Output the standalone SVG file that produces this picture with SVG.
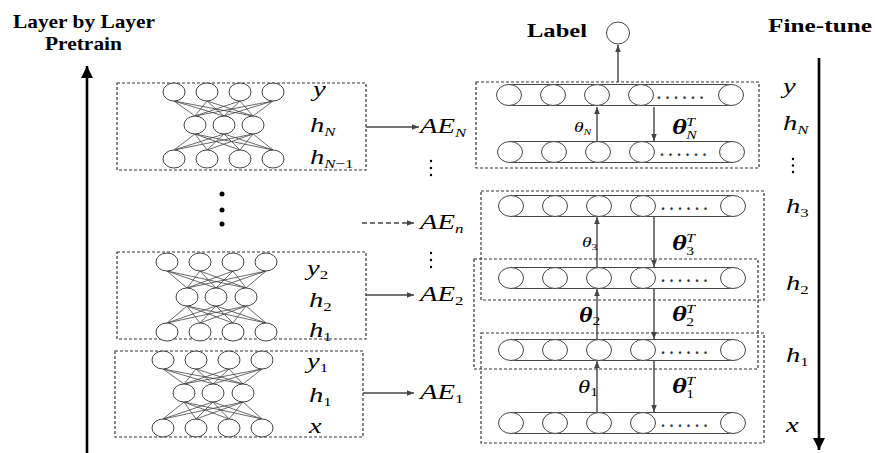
<svg xmlns="http://www.w3.org/2000/svg" width="875" height="453" viewBox="0 0 875 453">
<style>
.bg{fill:#fff}
.box{fill:none;stroke:#333;stroke-width:1.2;stroke-dasharray:3 2}
.n{fill:#fff;stroke:#444;stroke-width:1}
.w{fill:none;stroke:#444;stroke-width:0.8}
.ln{fill:none;stroke:#444;stroke-width:1}
.ar{fill:none;stroke:#444;stroke-width:1.4}
.big{fill:none;stroke:#000;stroke-width:2.6}
.t{font-family:'Liberation Serif','Times New Roman',serif;font-weight:bold;font-size:19px;fill:#000}
.v{font-family:'Liberation Serif','Times New Roman',serif;font-style:italic;font-size:22px;fill:#000}
.s{font-size:13px}
.d{font-style:normal}
.dots{font-family:'Liberation Serif','Times New Roman',serif;font-weight:bold;font-size:16px;letter-spacing:4.5px;fill:#333}
.dot{fill:#000}
</style>
<defs>
<marker id="ah" viewBox="0 0 10 10" refX="10" refY="5" markerWidth="7" markerHeight="7" markerUnits="userSpaceOnUse" orient="auto"><path d="M0 1L10 5L0 9z" fill="#444"/></marker>
<marker id="bh" viewBox="0 0 10 10" refX="10" refY="5" markerWidth="12" markerHeight="16" markerUnits="userSpaceOnUse" orient="auto"><path d="M0 0L10 5L0 10z" fill="#000"/></marker>
</defs>
<rect class="bg" x="0" y="0" width="875" height="453"/>

<!-- titles -->
<text class="t" x="13" y="28" textLength="142" lengthAdjust="spacingAndGlyphs">Layer by Layer</text>
<text class="t" x="45" y="50" textLength="77" lengthAdjust="spacingAndGlyphs">Pretrain</text>
<text class="t" x="527" y="37" textLength="60" lengthAdjust="spacingAndGlyphs">Label</text>
<text class="t" x="768" y="32" textLength="104" lengthAdjust="spacingAndGlyphs">Fine-tune</text>

<!-- main direction arrows and connectors -->
<g id="connectors">
<line class="big" x1="87" y1="453" x2="87" y2="66" marker-end="url(#bh)"/>
<line class="big" x1="819" y1="58" x2="819" y2="450" marker-end="url(#bh)"/>
<line class="ar" x1="366" y1="127" x2="419" y2="127" marker-end="url(#ah)"/>
<line class="ar" x1="362" y1="223" x2="414" y2="223" stroke-dasharray="5 3" marker-end="url(#ah)"/>
<line class="ar" x1="366" y1="295" x2="414" y2="295" marker-end="url(#ah)"/>
<line class="ar" x1="363" y1="393" x2="414" y2="393" marker-end="url(#ah)"/>
<line class="ar" x1="618" y1="82" x2="618" y2="45" marker-end="url(#ah)"/>
<line class="ar" x1="597" y1="141" x2="597" y2="107" marker-end="url(#ah)"/>
<line class="ar" x1="654" y1="107" x2="654" y2="141" marker-end="url(#ah)"/>
<line class="ar" x1="597" y1="267" x2="597" y2="217" marker-end="url(#ah)"/>
<line class="ar" x1="654" y1="217" x2="654" y2="267" marker-end="url(#ah)"/>
<line class="ar" x1="597" y1="339" x2="597" y2="289" marker-end="url(#ah)"/>
<line class="ar" x1="654" y1="289" x2="654" y2="339" marker-end="url(#ah)"/>
<line class="ar" x1="597" y1="412" x2="597" y2="361" marker-end="url(#ah)"/>
<line class="ar" x1="654" y1="361" x2="654" y2="412" marker-end="url(#ah)"/>
</g>

<!-- left block 1 (AE_N) -->
<g id="ae-N-net">
<rect class="box" x="117" y="83" width="249" height="87"/>
<path class="w" d="M174 101L195 116M174 101L224 116M174 101L253 116M207 101L195 116M207 101L224 116M207 101L253 116M240 101L195 116M240 101L224 116M240 101L253 116M273 101L195 116M273 101L224 116M273 101L253 116"/>
<path class="w" d="M195 134L174 150M195 134L207 150M195 134L240 150M195 134L273 150M224 134L174 150M224 134L207 150M224 134L240 150M224 134L273 150M253 134L174 150M253 134L207 150M253 134L240 150M253 134L273 150"/>
<ellipse class="n" cx="174" cy="92" rx="11" ry="9"/><ellipse class="n" cx="207" cy="92" rx="11" ry="9"/><ellipse class="n" cx="240" cy="92" rx="11" ry="9"/><ellipse class="n" cx="273" cy="92" rx="11" ry="9"/>
<ellipse class="n" cx="195" cy="125" rx="11" ry="9"/><ellipse class="n" cx="224" cy="125" rx="11" ry="9"/><ellipse class="n" cx="253" cy="125" rx="11" ry="9"/>
<ellipse class="n" cx="174" cy="159" rx="11" ry="9"/><ellipse class="n" cx="207" cy="159" rx="11" ry="9"/><ellipse class="n" cx="240" cy="159" rx="11" ry="9"/><ellipse class="n" cx="273" cy="159" rx="11" ry="9"/>
<text class="v" transform="translate(313,96) scale(1.3,1)">y</text>
<text class="v" transform="translate(310,132) scale(1.3,1)">h<tspan class="s" dy="4">N</tspan></text>
<text class="v" transform="translate(310,164) scale(1.3,1)">h<tspan class="s" dy="4">N<tspan class="d">−1</tspan></tspan></text>
</g>

<!-- ellipsis between left blocks -->
<g id="left-ellipsis">
<circle class="dot" cx="222" cy="194" r="2.5"/><circle class="dot" cx="222" cy="210" r="2.5"/><circle class="dot" cx="222" cy="224" r="2.5"/>
</g>

<!-- left block 2 (AE_2) -->
<g id="ae-2-net">
<rect class="box" x="117" y="252" width="249" height="87"/>
<path class="w" d="M167 271L187 288M167 271L216 288M167 271L246 288M200 271L187 288M200 271L216 288M200 271L246 288M233 271L187 288M233 271L216 288M233 271L246 288M266 271L187 288M266 271L216 288M266 271L246 288"/>
<path class="w" d="M187 306L167 323M187 306L200 323M187 306L233 323M187 306L266 323M216 306L167 323M216 306L200 323M216 306L233 323M216 306L266 323M246 306L167 323M246 306L200 323M246 306L233 323M246 306L266 323"/>
<ellipse class="n" cx="167" cy="262" rx="11" ry="9"/><ellipse class="n" cx="200" cy="262" rx="11" ry="9"/><ellipse class="n" cx="233" cy="262" rx="11" ry="9"/><ellipse class="n" cx="266" cy="262" rx="11" ry="9"/>
<ellipse class="n" cx="187" cy="297" rx="11" ry="9"/><ellipse class="n" cx="216" cy="297" rx="11" ry="9"/><ellipse class="n" cx="246" cy="297" rx="11" ry="9"/>
<ellipse class="n" cx="167" cy="332" rx="11" ry="9"/><ellipse class="n" cx="200" cy="332" rx="11" ry="9"/><ellipse class="n" cx="233" cy="332" rx="11" ry="9"/><ellipse class="n" cx="266" cy="332" rx="11" ry="9"/>
<text class="v" transform="translate(307,275) scale(1.3,1)">y<tspan class="s d" dy="4">2</tspan></text>
<text class="v" transform="translate(309,307) scale(1.3,1)">h<tspan class="s d" dy="4">2</tspan></text>
<text class="v" transform="translate(309,337) scale(1.3,1)">h<tspan class="s d" dy="4">1</tspan></text>
</g>

<!-- left block 3 (AE_1) -->
<g id="ae-1-net">
<rect class="box" x="115" y="351" width="248" height="86"/>
<path class="w" d="M163 369L184 384M163 369L213 384M163 369L243 384M196 369L184 384M196 369L213 384M196 369L243 384M229 369L184 384M229 369L213 384M229 369L243 384M262 369L184 384M262 369L213 384M262 369L243 384"/>
<path class="w" d="M184 402L163 419M184 402L196 419M184 402L229 419M184 402L262 419M213 402L163 419M213 402L196 419M213 402L229 419M213 402L262 419M243 402L163 419M243 402L196 419M243 402L229 419M243 402L262 419"/>
<ellipse class="n" cx="163" cy="360" rx="11" ry="9"/><ellipse class="n" cx="196" cy="360" rx="11" ry="9"/><ellipse class="n" cx="229" cy="360" rx="11" ry="9"/><ellipse class="n" cx="262" cy="360" rx="11" ry="9"/>
<ellipse class="n" cx="184" cy="393" rx="11" ry="9"/><ellipse class="n" cx="213" cy="393" rx="11" ry="9"/><ellipse class="n" cx="243" cy="393" rx="11" ry="9"/>
<ellipse class="n" cx="163" cy="428" rx="11" ry="9"/><ellipse class="n" cx="196" cy="428" rx="11" ry="9"/><ellipse class="n" cx="229" cy="428" rx="11" ry="9"/><ellipse class="n" cx="262" cy="428" rx="11" ry="9"/>
<text class="v" transform="translate(307,368) scale(1.3,1)">y<tspan class="s d" dy="4">1</tspan></text>
<text class="v" transform="translate(309,402) scale(1.3,1)">h<tspan class="s d" dy="4">1</tspan></text>
<text class="v" transform="translate(309,433) scale(1.3,1)">x</text>
</g>

<!-- AE labels -->
<g id="ae-labels">
<text class="v" transform="translate(420,133) scale(1.3,1)">AE<tspan class="s" dy="4">N</tspan></text>
<circle class="dot" cx="431" cy="161" r="1.2"/><circle class="dot" cx="431" cy="168" r="1.2"/><circle class="dot" cx="431" cy="175" r="1.2"/>
<text class="v" transform="translate(420,229) scale(1.3,1)">AE<tspan class="s" dy="4">n</tspan></text>
<circle class="dot" cx="431" cy="253" r="1.2"/><circle class="dot" cx="431" cy="260" r="1.2"/><circle class="dot" cx="431" cy="267" r="1.2"/>
<text class="v" transform="translate(420,301) scale(1.3,1)">AE<tspan class="s d" dy="4">2</tspan></text>
<text class="v" transform="translate(420,399) scale(1.3,1)">AE<tspan class="s d" dy="4">1</tspan></text>
</g>

<!-- label node -->
<g id="label-node"><ellipse class="n" cx="618" cy="33" rx="11.5" ry="11"/></g>

<!-- right dashed boxes -->
<g id="ft-boxes">
<rect class="box" x="476" y="82" width="283" height="86"/>
<rect class="box" x="481" y="191" width="283" height="109"/>
<rect class="box" x="474" y="259" width="284" height="110"/>
<rect class="box" x="481" y="333" width="283" height="110"/>
</g>

<!-- right rows -->
<g id="row-y">
<line class="ln" x1="509" y1="84.5" x2="731" y2="84.5"/><line class="ln" x1="509" y1="105.5" x2="731" y2="105.5"/>
<ellipse class="n" cx="509" cy="95" rx="12.5" ry="10.5"/><ellipse class="n" cx="553" cy="95" rx="12.5" ry="10.5"/><ellipse class="n" cx="597" cy="95" rx="12.5" ry="10.5"/><ellipse class="n" cx="641" cy="95" rx="12.5" ry="10.5"/><ellipse class="n" cx="731" cy="95" rx="12.5" ry="10.5"/>
<text class="dots" x="657" y="99">......</text>
</g>
<g id="row-hN">
<line class="ln" x1="510" y1="141.5" x2="732" y2="141.5"/><line class="ln" x1="510" y1="162.5" x2="732" y2="162.5"/>
<ellipse class="n" cx="510" cy="152" rx="12.5" ry="10.5"/><ellipse class="n" cx="554" cy="152" rx="12.5" ry="10.5"/><ellipse class="n" cx="598" cy="152" rx="12.5" ry="10.5"/><ellipse class="n" cx="642" cy="152" rx="12.5" ry="10.5"/><ellipse class="n" cx="732" cy="152" rx="12.5" ry="10.5"/>
<text class="dots" x="660" y="156">......</text>
</g>
<g id="row-h3">
<line class="ln" x1="511" y1="195.5" x2="733" y2="195.5"/><line class="ln" x1="511" y1="216.5" x2="733" y2="216.5"/>
<ellipse class="n" cx="511" cy="206" rx="12.5" ry="10.5"/><ellipse class="n" cx="555" cy="206" rx="12.5" ry="10.5"/><ellipse class="n" cx="599" cy="206" rx="12.5" ry="10.5"/><ellipse class="n" cx="643" cy="206" rx="12.5" ry="10.5"/><ellipse class="n" cx="733" cy="206" rx="12.5" ry="10.5"/>
<text class="dots" x="661" y="210">......</text>
</g>
<g id="row-h2">
<line class="ln" x1="511" y1="267.5" x2="733" y2="267.5"/><line class="ln" x1="511" y1="288.5" x2="733" y2="288.5"/>
<ellipse class="n" cx="511" cy="278" rx="12.5" ry="10.5"/><ellipse class="n" cx="555" cy="278" rx="12.5" ry="10.5"/><ellipse class="n" cx="599" cy="278" rx="12.5" ry="10.5"/><ellipse class="n" cx="643" cy="278" rx="12.5" ry="10.5"/><ellipse class="n" cx="733" cy="278" rx="12.5" ry="10.5"/>
<text class="dots" x="661" y="282">......</text>
</g>
<g id="row-h1">
<line class="ln" x1="511" y1="339.5" x2="733" y2="339.5"/><line class="ln" x1="511" y1="360.5" x2="733" y2="360.5"/>
<ellipse class="n" cx="511" cy="350" rx="12.5" ry="10.5"/><ellipse class="n" cx="555" cy="350" rx="12.5" ry="10.5"/><ellipse class="n" cx="599" cy="350" rx="12.5" ry="10.5"/><ellipse class="n" cx="643" cy="350" rx="12.5" ry="10.5"/><ellipse class="n" cx="733" cy="350" rx="12.5" ry="10.5"/>
<text class="dots" x="661" y="354">......</text>
</g>
<g id="row-x">
<line class="ln" x1="511" y1="412.5" x2="733" y2="412.5"/><line class="ln" x1="511" y1="433.5" x2="733" y2="433.5"/>
<ellipse class="n" cx="511" cy="423" rx="12.5" ry="10.5"/><ellipse class="n" cx="555" cy="423" rx="12.5" ry="10.5"/><ellipse class="n" cx="599" cy="423" rx="12.5" ry="10.5"/><ellipse class="n" cx="643" cy="423" rx="12.5" ry="10.5"/><ellipse class="n" cx="733" cy="423" rx="12.5" ry="10.5"/>
<text class="dots" x="661" y="427">......</text>
</g>

<!-- weight labels -->
<g id="weights">
<text class="v" style="font-size:15px" transform="translate(574,132) scale(1.3,1)">θ<tspan style="font-size:9px" dy="3">N</tspan></text>
<text class="v" style="font-size:22px;font-weight:bold" transform="translate(672,134) scale(1.3,1)">θ<tspan style="font-size:12px;font-weight:normal" x="11" y="-8">T</tspan><tspan style="font-size:12px;font-weight:normal" x="11" y="5">N</tspan></text>
<text class="v" style="font-size:15px" transform="translate(582,247) scale(1.3,1)">θ<tspan class="d" style="font-size:9px" dy="3">3</tspan></text>
<text class="v" style="font-size:22px;font-weight:bold" transform="translate(672,250) scale(1.3,1)">θ<tspan style="font-size:12px;font-weight:normal" x="11" y="-8">T</tspan><tspan class="d" style="font-size:12px;font-weight:normal" x="11" y="5">3</tspan></text>
<text class="v" style="font-size:20px;font-weight:bold" transform="translate(579,322) scale(1.3,1)">θ<tspan class="d" style="font-size:12px;font-weight:normal" dy="3">2</tspan></text>
<text class="v" style="font-size:22px;font-weight:bold" transform="translate(672,321) scale(1.3,1)">θ<tspan style="font-size:12px;font-weight:normal" x="11" y="-8">T</tspan><tspan class="d" style="font-size:12px;font-weight:normal" x="11" y="5">2</tspan></text>
<text class="v" style="font-size:19px" transform="translate(578,393) scale(1.3,1)">θ<tspan class="d" style="font-size:12px" dy="3">1</tspan></text>
<text class="v" style="font-size:22px;font-weight:bold" transform="translate(672,393) scale(1.3,1)">θ<tspan style="font-size:12px;font-weight:normal" x="11" y="-8">T</tspan><tspan class="d" style="font-size:12px;font-weight:normal" x="11" y="5">1</tspan></text>
</g>

<!-- right layer labels -->
<g id="layer-labels">
<text class="v" transform="translate(783,93) scale(1.3,1)">y</text>
<text class="v" transform="translate(783,130) scale(1.3,1)">h<tspan class="s" dy="4">N</tspan></text>
<circle class="dot" cx="793" cy="159" r="1.2"/><circle class="dot" cx="793" cy="165.5" r="1.2"/><circle class="dot" cx="793" cy="172" r="1.2"/>
<text class="v" transform="translate(786,213) scale(1.3,1)">h<tspan class="s d" dy="4">3</tspan></text>
<text class="v" transform="translate(786,290) scale(1.3,1)">h<tspan class="s d" dy="4">2</tspan></text>
<text class="v" transform="translate(786,362) scale(1.3,1)">h<tspan class="s d" dy="4">1</tspan></text>
<text class="v" transform="translate(786,432) scale(1.3,1)">x</text>
</g>
</svg>
